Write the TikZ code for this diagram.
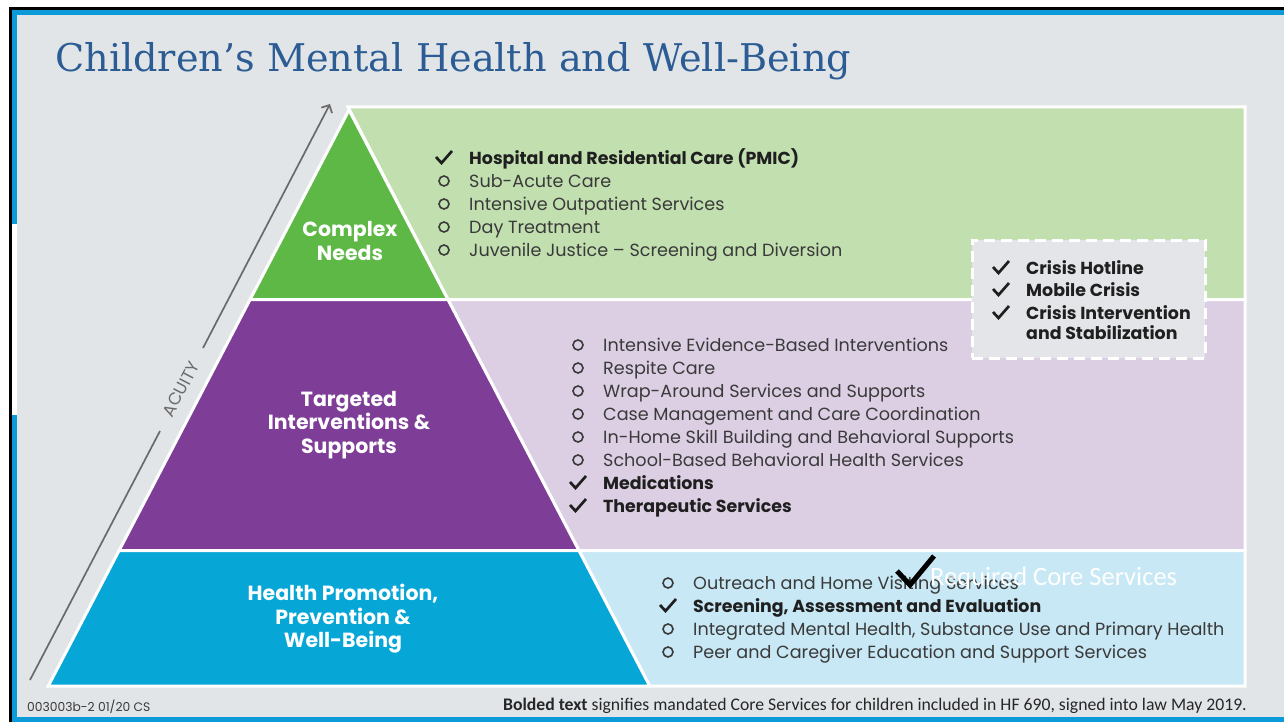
\documentclass[tikz,border=0pt]{standalone}
\usepackage{fontspec}
\setmainfont{Poppins}
\newfontfamily\titlefont{DejaVu Serif}
\newfontfamily\notefont{Carlito}
\usetikzlibrary{arrows.meta}

\definecolor{bg}{HTML}{E2E5E8}
\definecolor{framebl}{HTML}{0A9BD8}
\definecolor{titleblue}{HTML}{2C5C94}
\definecolor{cgreen}{HTML}{5DB846}
\definecolor{lgreen}{HTML}{C2DFB0}
\definecolor{cpurple}{HTML}{7E3D97}
\definecolor{lpurple}{HTML}{DCCFE4}
\definecolor{cblue}{HTML}{06A6D7}
\definecolor{lblue}{HTML}{C7E8F4}
\definecolor{itemtext}{HTML}{3A3A3A}
\definecolor{acuitygray}{HTML}{6A6A6A}
\definecolor{boxgray}{HTML}{E3E5E8}

% one service line: open ring or check mark, then its text
\newcommand\plainitem[4]{%
  \node[ring] (#1m) at (#2,#3) {};
  \node[item] (#1) at (#2+25,#3+6.5) {#4};}
\newcommand\coreitem[4]{%
  \pic (#1m) at (#2,#3) {chk};
  \node[bitem] (#1) at (#2+25,#3+6.5) {#4};}

\begin{document}
\begin{tikzpicture}[x=1pt,y=-1pt,
  tier/.style={draw=white, line width=3pt, line join=miter},
  tierlabel/.style={text=white, font=\bfseries\fontsize{20.5}{23.5}\selectfont, align=center, inner sep=0pt},
  item/.style={anchor=base west, inner sep=0pt, font=\fontsize{17.6}{21}\selectfont, text=itemtext},
  bitem/.style={item, font=\bfseries\fontsize{17.4}{21}\selectfont, text=black!88},
  ring/.style={circle, draw=itemtext, line width=1.6pt, minimum size=10pt, inner sep=0pt},
  chk/.pic={\draw[line width=2.7pt, line join=miter, black!88] (-8,-1) -- (-2.5,5) -- (8,-7);},
  acuity/.style={draw=acuitygray, line width=1.7pt}
]
\useasboundingbox (0,0) rectangle (1284,722);

% slide frame
\fill[white] (0,0) rectangle (1284,722);
\fill[black] (9,7) rectangle (1284,722);
\fill[framebl] (12,10) rectangle (1284,722);
\fill[white] (12,224) rectangle (17,415);
\fill[bg] (17,15) rectangle (1284,717);

% title
\node[anchor=base west, inner sep=0pt, font=\titlefont\fontsize{38.2}{40}\selectfont, text=titleblue]
  (title) at (55,72) {Children’s Mental Health and Well-Being};

% pyramid tiers and their service panels
\filldraw[tier, fill=lgreen] (348,107) -- (1245,107) -- (1245,299.5) -- (447.9,299.5) -- cycle;
\filldraw[tier, fill=lpurple] (447.9,299.5) -- (1245,299.5) -- (1245,550.5) -- (578.9,550.5) -- cycle;
\filldraw[tier, fill=lblue] (578.9,550.5) -- (1245,550.5) -- (1245,686) -- (649.7,686) -- cycle;
\filldraw[tier, fill=cgreen] (349,110) -- (447.9,299.5) -- (250.1,299.5) -- cycle;
\filldraw[tier, fill=cpurple] (250.1,299.5) -- (447.9,299.5) -- (578.9,550.5) -- (119.1,550.5) -- cycle;
\filldraw[tier, fill=cblue] (119.1,550.5) -- (578.9,550.5) -- (649.7,686) -- (48.3,686) -- cycle;

\node[tierlabel] (complex) at (350,241) {Complex\\Needs};
\node[tierlabel] (targeted) at (349,425) {Targeted\\Interventions \&\\Supports};
\node[tierlabel] (health) at (343,619) {Health Promotion,\\Prevention \&\\Well-Being};

% acuity arrow along the left flank
\coordinate (ac0) at (30,680);
\coordinate (ac1) at (160,431);
\coordinate (ac2) at (203,348);
\coordinate (ac3) at (330,104);
\draw[acuity] (ac0) -- (ac1);
\draw[acuity, -{Straight Barb[length=6pt, width=12pt, line width=1.7pt]}] (ac2) -- (ac3);
\node[rotate=62.5, text=acuitygray, font=\fontsize{17}{17}\selectfont, inner sep=0pt] (acuitylbl) at (181,389) {ACUITY};

% complex needs services
\coreitem{cn1}{444}{158}{Hospital and Residential Care (PMIC)}
\plainitem{cn2}{444}{181}{Sub-Acute Care}
\plainitem{cn3}{444}{204}{Intensive Outpatient Services}
\plainitem{cn4}{444}{227}{Day Treatment}
\plainitem{cn5}{444}{250}{Juvenile Justice – Screening and Diversion}

% crisis services box
\node[draw=white, fill=boxgray, line width=3pt, dash pattern=on 11pt off 6pt,
      minimum width=233pt, minimum height=118pt, inner sep=0pt] (crisisbox) at (1088.5,299) {};
\coreitem{cr1}{1001}{268}{Crisis Hotline}
\coreitem{cr2}{1001}{290}{Mobile Crisis}
\coreitem{cr3}{1001}{313}{Crisis Intervention}
\node[bitem] (cr3b) at (1026,339.5) {and Stabilization};

% targeted services
\plainitem{ti1}{578}{345}{Intensive Evidence-Based Interventions}
\plainitem{ti2}{578}{368}{Respite Care}
\plainitem{ti3}{578}{391}{Wrap-Around Services and Supports}
\plainitem{ti4}{578}{414}{Case Management and Care Coordination}
\plainitem{ti5}{578}{437}{In-Home Skill Building and Behavioral Supports}
\plainitem{ti6}{578}{460}{School-Based Behavioral Health Services}
\coreitem{ti7}{578}{483}{Medications}
\coreitem{ti8}{578}{506}{Therapeutic Services}

% health promotion services
\plainitem{hp1}{668}{583}{Outreach and Home Visiting Services}
\coreitem{hp2}{668}{606}{Screening, Assessment and Evaluation}
\plainitem{hp3}{668}{629}{Integrated Mental Health, Substance Use and Primary Health}
\plainitem{hp4}{668}{652}{Peer and Caregiver Education and Support Services}

% legend: large check with caption
\draw[line width=5pt, line join=miter, black] (897,571) -- (910,585) -- (934,556);
\node[anchor=base west, inner sep=0pt, text=white, font=\notefont\fontsize{26.5}{27}\selectfont]
  (legend) at (930,585) {Required Core Services};

% footer
\node[anchor=base west, inner sep=0pt, text=itemtext, font=\fontsize{12.3}{14}\selectfont]
  (code) at (27,711) {003003b-2 01/20 CS};
\node[anchor=base east, inner sep=0pt, text=black!85, font=\notefont\fontsize{17.7}{19}\selectfont]
  (note) at (1247,710) {\textbf{Bolded text} signifies mandated Core Services for children included in HF 690, signed into law May 2019.};
\end{tikzpicture}
\end{document}
